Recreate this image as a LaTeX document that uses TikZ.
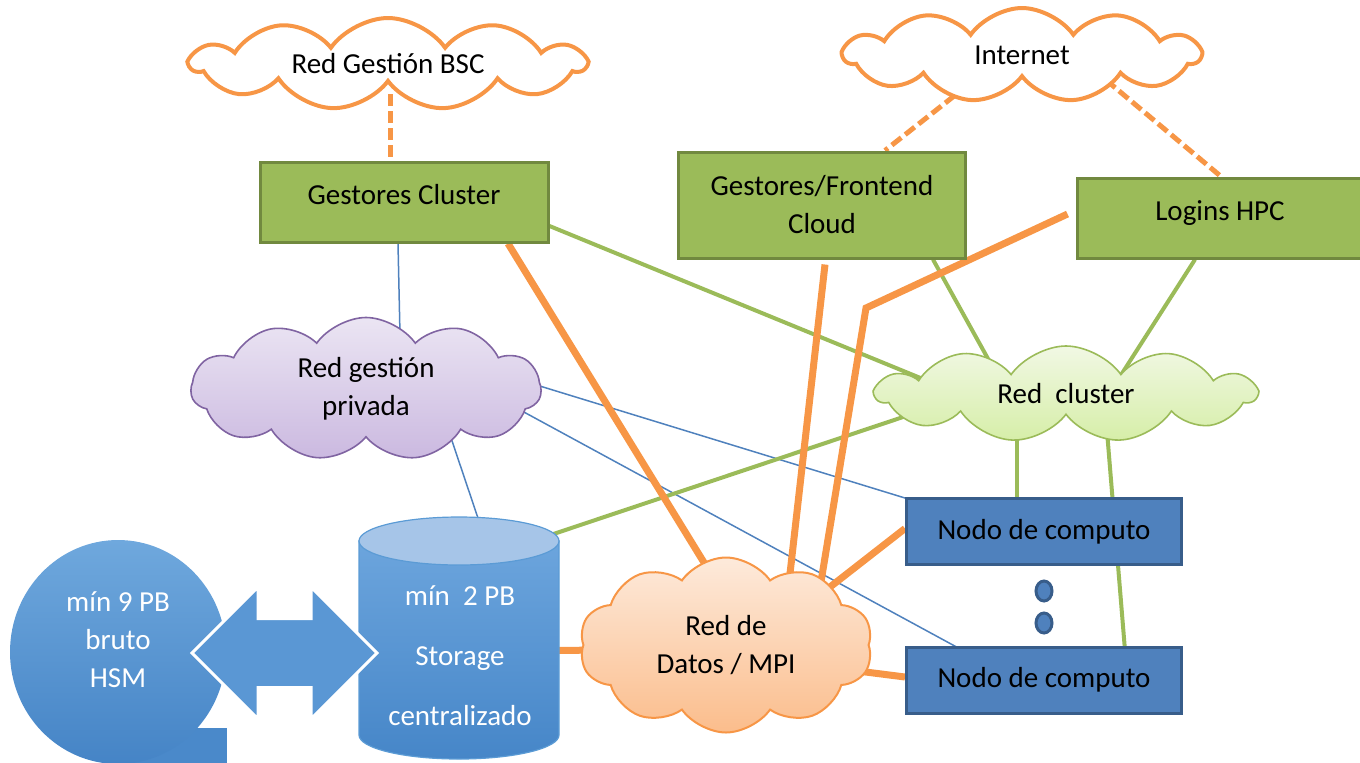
\documentclass[tikz,border=0pt]{standalone}
\usepackage{fontspec}
\setmainfont{Carlito}
\usepackage{tikz}
\usetikzlibrary{shapes.symbols,shapes.geometric,shapes.arrows,calc,backgrounds}

\definecolor{naranja}{HTML}{F79646}
\definecolor{verde}{HTML}{9BBB59}
\definecolor{verdeosc}{HTML}{71893F}
\definecolor{azul}{HTML}{4F81BD}
\definecolor{azulosc}{HTML}{385D8A}
\definecolor{lila}{HTML}{8064A2}
\definecolor{lilaarriba}{HTML}{EBE5F3}
\definecolor{lilaabajo}{HTML}{CBB9E0}
\definecolor{verdearriba}{HTML}{F1F8E4}
\definecolor{verdeabajo}{HTML}{D6EEA8}
\definecolor{naranjaarriba}{HTML}{FDEADB}
\definecolor{naranjaabajo}{HTML}{FBBD8C}
\definecolor{almacenarriba}{HTML}{6CA5DD}
\definecolor{almacenabajo}{HTML}{4686C8}
\definecolor{almacentapa}{HTML}{A6C5E8}
\definecolor{almacenborde}{HTML}{5B9BD5}
\definecolor{hsmarriba}{HTML}{6FA8DD}
\definecolor{hsmabajo}{HTML}{4584C6}
\definecolor{hsmcola}{HTML}{4A89CA}
\definecolor{flecha}{HTML}{5A97D4}

\begin{document}
\begin{tikzpicture}[x=0.5pt, y=-0.5pt, font=\fontsize{14.5}{19}\selectfont,
    nube/.style={cloud, cloud puffs=11, cloud puff arc=110, cloud ignores aspect, inner sep=0pt, align=center},
    nubeblanca/.style={nube, draw=naranja, line width=2pt, fill=white},
    gestor/.style={rectangle, align=center, inner sep=0pt, fill=verde, draw=verdeosc, line width=1.5pt},
    nodo/.style={rectangle, inner sep=0pt, fill=azul, draw=azulosc, line width=1.5pt, minimum width=137.5pt, minimum height=33pt},
    punto/.style={ellipse, fill=azul, draw=azulosc, line width=1.5pt, minimum width=8pt, minimum height=10pt, inner sep=0pt},
    lineadatos/.style={naranja, line width=3.5pt},
    enlace/.style={verde, line width=2pt},
    gestion/.style={azul, line width=0.75pt},
    externo/.style={naranja, line width=2.5pt, dash pattern=on 6pt off 2.5pt}]
\useasboundingbox (0,0) rectangle (1360,762);

% Nubes
\node[nubeblanca, minimum width=197pt, minimum height=46pt] (bsc) at (388,64) {Red Gestión BSC};
\node[nubeblanca, minimum width=178pt, minimum height=47pt] (inet) at (1022,55) {Internet};
\node[nube, draw=lila, line width=0.8pt, top color=lilaarriba, bottom color=lilaabajo,
      minimum width=175pt, minimum height=71.5pt] (rgp) at (366,389) {Red gestión\\privada};
\node[nube, draw=verde, line width=0.8pt, top color=verdearriba, bottom color=verdeabajo,
      minimum width=190pt, minimum height=48pt] (rc) at (1066,394) {Red\ \ cluster};
\node[nube, cloud puffs=10, draw=naranja, line width=1pt, top color=naranjaarriba, bottom color=naranjaabajo,
      minimum width=146.5pt, minimum height=87.5pt] (mpi) at (726,645) {Red de\\Datos / MPI};

% Gestores
\node[gestor, text depth=8pt, minimum width=144pt, minimum height=40pt] (gc) at (404,202) {Gestores Cluster};
\node[gestor, minimum width=143.5pt, minimum height=53pt] (gf) at (822,205) {Gestores/Frontend\\Cloud};
\node[gestor, text depth=7pt, minimum width=143pt, minimum height=40pt] (lg) at (1220,218) {Logins HPC};

% Nodos de computo
\node[nodo] (n1) at (1044,531.5) {Nodo de computo};
\node[nodo] (n2) at (1044,680) {Nodo de computo};
\foreach \y/\p in {591/p1, 623/p2}
    \node[punto] (\p) at (1044,\y) {};

% Almacenamiento
\shade[top color=almacenarriba, bottom color=almacenabajo, draw=almacenborde, line width=0.6pt]
    (359,541) -- (359,735) arc[start angle=180, end angle=360, x radius=50pt, y radius=12pt] -- (559,541) -- cycle;
\filldraw[fill=almacentapa, draw=almacenborde, line width=0.6pt] (459,541) ellipse [x radius=50pt, y radius=12pt];
\node[text=white, align=center] (sto) at (460,656) {mín\ \ 2 PB\\[11pt]Storage\\[11pt]centralizado};

\node[ellipse, top color=hsmarriba, bottom color=hsmabajo, minimum width=108pt, minimum height=112pt, inner sep=0pt] (hsm) at (118,652) {};
\node[text=white, align=center] (hsmtxt) at (118,640) {mín 9 PB\\bruto\\HSM};

\node[double arrow, double arrow head extend=15.75pt, fill=flecha, draw=white, line width=1.5pt,
      minimum height=92.5pt, minimum width=64.5pt, inner xsep=0pt, inner ysep=16.5pt] (arr) at (284.5,653) {};

\begin{scope}[on background layer]
\fill[hsmcola] ($(hsm.center)+(0,76)$) rectangle ($(hsm.center)+(109,114)$);

% Red de gestion
\draw[gestion] ($(gc.south)+(-6,0)$) -- ($(rgp)+(34,-54)$);
\draw[gestion] ($(rgp)+(82,40)$) -- ($(sto)+(21.5,-127.5)$);
\draw[gestion] ($(rgp)+(164,-6)$) -- ($(n1.north west)+(13,5)$);
\draw[gestion] ($(rgp)+(156,22)$) -- ($(n2.north west)+(58,5)$);

% Red cluster
\draw[enlace] ($(gc.east)+(0,24)$) -- ($(rc)+(-126,-8)$);
\draw[enlace] ($(gf.south)+(111,0)$) -- ($(rc)+(-69,-19)$);
\draw[enlace] ($(lg.south)+(-25,0)$) -- ($(rc)+(55,-19)$);
\draw[enlace] ($(rc)+(-136,14)$) -- ($(sto)+(80,-117.5)$);
\draw[enlace] ($(rc)+(-49,25)$) -- ($(n1.north)+(-27,5)$);
\draw[enlace] ($(rc)+(40,25)$) -- ($(n2.north)+(81,5)$);

% Red de datos
\coordinate (codo) at (866,308);
\draw[lineadatos] ($(gc.south)+(104,0)$) -- ($(mpi)+(1,-45)$);
\draw[lineadatos] ($(gf.south)+(3,5)$) -- ($(mpi)+(61,-45)$);
\draw[lineadatos] ($(lg.west)+(-8,-4)$) -- (codo) -- ($(mpi)+(92,-45)$);
\draw[lineadatos] ($(n1.west)+(0,-3)$) -- ($(mpi)+(104,-58)$);
\draw[lineadatos] ($(n2.west)+(0,-3)$) -- ($(mpi)+(124,25)$);
\draw[lineadatos] ($(sto)+(94,-5.5)$) -- ($(mpi)+(-124,5)$);

% Redes externas
\draw[externo] ($(bsc)+(2,30)$) -- ($(gc.north)+(-14,0)$);
\draw[externo] ($(inet)+(-54,30)$) -- ($(gf.north)+(63,0)$);
\draw[externo] ($(inet)+(84,25)$) -- ($(lg.north)+(1,0)$);
\end{scope}
\end{tikzpicture}
\end{document}
